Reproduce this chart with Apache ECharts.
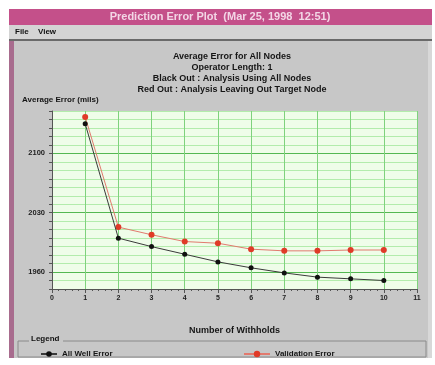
<!DOCTYPE html>
<html><head><meta charset="utf-8">
<script src="https://cdn.jsdelivr.net/npm/echarts@6/dist/echarts.min.js"></script>
<style>html,body{margin:0;padding:0;background:#fff}#c{width:435px;height:365px}</style>
</head><body><div id="c"></div>
<script>
const windowTitle = 'Prediction Error Plot  (Mar 25, 1998  12:51)';
const menuItems = ['File', 'View'];
const chartTitleLines = [
  'Average Error for All Nodes',
  'Operator Length: 1',
  'Black Out : Analysis Using All Nodes',
  'Red Out : Analysis Leaving Out Target Node'
];
const yAxisName = 'Average Error (mils)';
const xAxisName = 'Number of Withholds';
const seriesNames = ['All Well Error', 'Validation Error'];
const xValues = [1, 2, 3, 4, 5, 6, 7, 8, 9, 10];
const allWellError = [2135, 2000, 1990, 1981, 1972, 1965, 1959, 1954, 1952, 1950];
const validationError = [2143, 2013, 2004, 1996, 1994, 1987, 1985, 1985, 1986, 1986];
const yLabelValues = [1960, 2030, 2100];

const FONT = 'Liberation Sans';
const chart = echarts.init(document.getElementById('c'), null, {renderer: 'canvas'});
const minorC = '#b3ecac', majorC = '#54b852';
const splitColors = [minorC, minorC, majorC, minorC, minorC, minorC, minorC];

const graphics = [
  {type: 'rect', z: -10, shape: {x: 9, y: 9, width: 423, height: 349}, style: {fill: '#c7c7c7'}},
  {type: 'rect', z: -9, shape: {x: 9, y: 9, width: 423, height: 16}, style: {fill: '#c4508a'}},
  {type: 'rect', z: -9, shape: {x: 9, y: 25, width: 423, height: 14}, style: {fill: '#d4d4d4'}},
  {type: 'rect', z: -9, shape: {x: 9, y: 39, width: 423, height: 2}, style: {fill: '#6a6a6a'}},
  {type: 'rect', z: -9, shape: {x: 9, y: 41, width: 5, height: 317}, style: {fill: '#a86c8e'}},
  {type: 'rect', z: -9, shape: {x: 428, y: 41, width: 4, height: 317}, style: {fill: '#d8d8d8'}},
  {type: 'text', z: 5, style: {x: 220, y: 17, text: windowTitle, fill: '#f3d6e6', font: 'bold 11px ' + FONT, textAlign: 'center', textVerticalAlign: 'middle'}},
  {type: 'text', z: 5, style: {x: 15, y: 32, text: menuItems[0], fill: '#111', font: 'bold 8px ' + FONT, textVerticalAlign: 'middle'}},
  {type: 'text', z: 5, style: {x: 38, y: 32, text: menuItems[1], fill: '#111', font: 'bold 8px ' + FONT, textVerticalAlign: 'middle'}},
  {type: 'rect', z: -8, shape: {x: 18, y: 341, width: 408, height: 16}, style: {fill: 'none', stroke: '#8a8a8a', lineWidth: 1}},
  {type: 'rect', z: -7, shape: {x: 29, y: 336, width: 34, height: 7}, style: {fill: '#c7c7c7'}},
  {type: 'text', z: 5, style: {x: 31, y: 339, text: 'Legend', fill: '#111', font: 'bold 8px ' + FONT, textVerticalAlign: 'middle'}}
];
chartTitleLines.forEach((t, i) => {
  graphics.push({type: 'text', z: 5, style: {x: 232, y: 57 + i * 10.7, text: t, fill: '#151515', font: 'bold 9px ' + FONT, textAlign: 'center', textVerticalAlign: 'middle'}});
});
graphics.push({type: 'text', z: 5, style: {x: 22, y: 100, text: yAxisName, fill: '#151515', font: 'bold 8px ' + FONT, textVerticalAlign: 'middle'}});

const option = {
  backgroundColor: '#ffffff',
  animation: false,
  graphic: graphics,
  grid: {left: 52, right: 18, top: 111, bottom: 76, show: true, backgroundColor: '#effde9', borderWidth: 0},
  legend: [
    {data: [seriesNames[0]], left: 35, top: 345, itemWidth: 16, itemHeight: 7, itemGap: 4,
      textStyle: {fontFamily: FONT, fontSize: 8, fontWeight: 'bold', color: '#151515'}},
    {data: [seriesNames[1]], left: 238, top: 345, itemWidth: 26, itemHeight: 8, itemGap: 4,
      textStyle: {fontFamily: FONT, fontSize: 8, fontWeight: 'bold', color: '#151515'}}
  ],
  xAxis: {
    type: 'value', min: 0, max: 11, interval: 1,
    name: xAxisName, nameLocation: 'middle', nameGap: 37,
    nameTextStyle: {fontFamily: FONT, fontSize: 9, fontWeight: 'bold', color: '#151515'},
    axisLine: {lineStyle: {color: '#555', width: 1}},
    axisTick: {show: true, length: 4, lineStyle: {color: '#555'}},
    minorTick: {show: true, splitNumber: 5, length: 2, lineStyle: {color: '#555'}},
    axisLabel: {fontFamily: FONT, fontSize: 7, fontWeight: 'bold', color: '#222', margin: 6},
    splitLine: {show: true, lineStyle: {color: '#7fd27d', width: 1}}
  },
  yAxis: {
    type: 'value', min: 1940, max: 2150, interval: 10,
    axisLine: {show: true, lineStyle: {color: '#555', width: 1}},
    axisTick: {show: true, length: 3, lineStyle: {color: '#555'}},
    axisLabel: {fontFamily: FONT, fontSize: 7.5, fontWeight: 'bold', color: '#222', margin: 7,
      formatter: v => (yLabelValues.indexOf(Math.round(v)) >= 0 ? String(Math.round(v)) : '')},
    splitLine: {show: true, lineStyle: {color: splitColors, width: 1}}
  },
  series: [
    {name: seriesNames[0], type: 'line', data: xValues.map((x, i) => [x, allWellError[i]]),
      symbol: 'circle', symbolSize: 5, z: 3,
      lineStyle: {color: '#3a3a3a', width: 1}, itemStyle: {color: '#101010'}},
    {name: seriesNames[1], type: 'line', data: xValues.map((x, i) => [x, validationError[i]]),
      symbol: 'circle', symbolSize: 6, z: 2,
      lineStyle: {color: '#e27a6e', width: 1}, itemStyle: {color: '#e03a28'}}
  ]
};
chart.setOption(option);
</script></body></html>
